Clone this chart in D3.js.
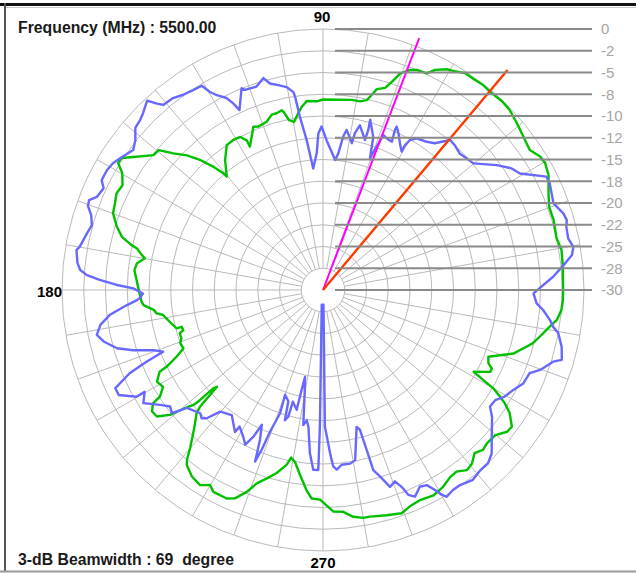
<!DOCTYPE html>
<html><head><meta charset="utf-8">
<script src="https://cdn.jsdelivr.net/npm/d3@7"></script>
<style>
html,body{margin:0;padding:0;background:#fff;}
svg{display:block;}
</style></head>
<body>
<svg id="chart" width="636" height="574"></svg>
<script>
// ---- data (angle in degrees counter-clockwise from 0 at right, value in dB) ----
const blueSeries = [
[0.5,-5.1],[3.3,-3.5],[5.9,-2.2],[8.0,-1.1],[9.8,-0.8],[11.9,-1.2],[14.6,-1.1],[16.0,-0.85],[17.7,-1.0],[20.6,-1.7],[25.2,-1.2],[26.9,-1.2],[30.6,-3.7],[32.8,-4.2],[35.7,-5.4],[40.1,-7.4],[42.5,-7.6],[44.9,-7.8],[47.7,-7.5],[49.7,-7.4],[52.7,-8.8],[55.0,-9.2],[58.3,-9.5],[59.9,-10.1],[60.5,-10.9],[60.4,-11.7],[62.0,-11.1],[64.3,-10.0],[65.7,-9.4],[65.8,-9.8],[65.1,-11.2],[67.2,-11.1],[68.7,-10.9],[69.5,-12.4],[70.4,-13.9],[71.8,-11.5],[74.5,-9.7],[74.2,-10.9],[74.4,-12.1],[75.4,-11.6],[77.4,-10.6],[78.5,-11.6],[78.9,-12.8],[79.9,-12.3],[81.6,-11.4],[82.5,-12.2],[83.6,-14.2],[84.7,-15.0],[86.4,-14.1],[88.6,-12.8],[90.5,-11.2],[91.7,-12.0],[92.6,-14.2],[94.6,-16.0],[96.2,-12.7],[97.6,-9.9],[98.2,-7.6],[98.5,-7.0],[100.2,-6.3],[102.3,-5.9],[104.4,-5.5],[105.7,-4.7],[108.1,-5.4],[111.3,-5.3],[112.0,-5.0],[114.9,-7.2],[115.7,-6.2],[116.7,-5.3],[118.6,-4.5],[119.7,-3.8],[120.7,-2.7],[123.0,-2.6],[125.6,-2.4],[128.0,-2.0],[130.8,-1.9],[131.7,-1.3],[132.9,-0.3],[135.5,-1.0],[137.1,-1.3],[139.2,-1.5],[141.4,-2.4],[143.6,-2.9],[146.5,-2.3],[148.9,-1.8],[151.0,-1.6],[153.6,-1.6],[155.1,-2.2],[157.6,-1.9],[159.0,-1.2],[160.3,-1.3],[162.1,-2.0],[164.3,-2.4],[166.5,-2.1],[169.9,-1.6],[170.8,-1.3],[173.7,-1.6],[175.3,-2.0],[176.4,-2.8],[177.4,-4.3],[178.6,-6.3],[179.5,-8.2],[181.1,-9.3],[182.6,-8.9],[183.1,-8.6],[184.4,-7.4],[186.7,-5.3],[188.9,-4.1],[191.2,-3.5],[193.2,-4.1],[195.8,-5.4],[197.6,-7.1],[199.5,-9.3],[201.1,-10.3],[202.1,-8.1],[203.3,-5.8],[205.3,-3.6],[207.2,-3.6],[209.8,-5.3],[209.7,-6.4],[212.2,-5.6],[215.2,-7.1],[217.3,-7.9],[219.2,-7.6],[220.9,-9.3],[225.1,-10.0],[226.6,-9.7],[227.8,-10.1],[229.8,-11.7],[233.9,-12.2],[238.2,-10.8],[238.6,-11.6],[241.5,-10.8],[243.3,-10.1],[244.6,-11.3],[245.6,-13.0],[247.2,-11.3],[248.4,-8.8],[249.0,-10.3],[249.5,-12.6],[250.8,-15.0],[250.1,-17.2],[252.7,-16.6],[253.7,-14.4],[254.7,-14.9],[254.9,-16.7],[257.6,-15.9],[257.8,-17.5],[258.3,-19.8],[259.9,-18.0],[261.7,-14.3],[262.9,-14.9],[263.9,-14.2],[265.4,-11.2],[266.9,-9.3],[268.5,-9.3],[268.7,-14.3],[265.0,-28.3],[271.9,-28.3],[270.8,-14.3],[272.5,-11.2],[273.3,-9.7],[274.4,-9.3],[276.1,-9.8],[278.9,-9.8],[280.7,-10.1],[283.8,-13.8],[284.8,-13.4],[285.3,-10.9],[285.6,-8.5],[287.0,-7.6],[288.8,-6.1],[290.6,-6.5],[291.8,-5.6],[292.6,-4.5],[294.0,-4.0],[296.2,-4.8],[298.0,-4.6],[299.2,-3.7],[300.1,-2.8],[300.9,-2.3],[303.1,-2.6],[305.1,-2.6],[308.3,-2.2],[311.1,-2.5],[313.6,-2.5],[315.9,-3.0],[319.0,-4.3],[323.1,-5.7],[325.1,-6.6],[327.4,-6.5],[329.6,-5.8],[332.3,-5.3],[335.0,-4.6],[338.1,-4.4],[339.8,-3.4],[342.7,-2.3],[343.7,-1.4],[346.6,-1.8],[349.6,-2.5],[350.9,-3.2],[352.5,-3.7],[354.8,-4.6],[356.4,-5.4],[359.1,-5.8]
];
const greenSeries = [
[0,-2.4],[5.5,-2.3],[9.5,-2.2],[12.5,-2.5],[16.9,-2.3],[20.2,-2.3],[23.2,-1.8],[27.0,-0.9],[29.7,-0.6],[31.6,-0.7],[34.1,-1.3],[37.4,-1.0],[40.7,-0.6],[43.9,-0.2],[46.5,-0.1],[49.6,-0.2],[52.0,-0.1],[54.6,-0.2],[56.8,-0.2],[59.3,-0.7],[60.7,-0.9],[63.0,-1.6],[64.4,-2.4],[66.9,-2.5],[68.4,-2.8],[69.4,-3.2],[70.4,-3.6],[71.7,-4.8],[72.9,-5.7],[75.0,-6.1],[76.0,-6.9],[77.0,-7.6],[78.9,-7.9],[81.4,-7.9],[89.9,-8.1],[91.9,-8.3],[94.9,-8.2],[96.6,-8.8],[98.0,-9.5],[99.8,-10.4],[101.3,-10.1],[102.4,-9.1],[102.9,-8.8],[104.7,-9.0],[106.3,-9.0],[108.5,-9.6],[111.6,-9.8],[113.1,-9.6],[117.0,-11.5],[117.0,-10.7],[118.4,-10.0],[120.9,-9.9],[123.6,-10.0],[127.0,-11.3],[130.3,-12.9],[130.5,-12.4],[131.7,-11.0],[133.4,-9.4],[135.3,-8.0],[137.6,-6.7],[139.6,-5.2],[141.5,-5.1],[144.9,-3.4],[146.8,-2.3],[148.2,-2.3],[149.8,-3.3],[152.4,-4.0],[154.9,-3.8],[157.4,-4.1],[159.9,-4.3],[162.9,-5.2],[165.2,-6.1],[166.8,-7.4],[167.4,-8.1],[169.1,-8.8],[169.9,-9.2],[171.8,-8.4],[174.0,-8.2],[177.5,-8.6],[181.0,-8.9],[183.7,-9.1],[184.8,-9.3],[186.7,-10.4],[188.0,-10.7],[188.9,-11.4],[190.3,-11.7],[191.7,-12.0],[194.7,-12.6],[194.6,-13.2],[196.0,-13.3],[196.8,-12.8],[198.9,-12.8],[200.4,-12.5],[202.7,-12.6],[204.5,-11.5],[206.1,-10.0],[206.6,-9.0],[208.9,-8.2],[211.2,-8.5],[213.2,-7.6],[213.7,-6.5],[215.4,-5.9],[217.3,-6.0],[219.2,-7.3],[220.4,-8.9],[221.6,-10.1],[221.8,-11.0],[221.9,-13.1],[222.4,-13.5],[222.9,-12.3],[223.5,-10.5],[224.3,-9.7],[227.0,-8.3],[229.9,-6.3],[231.3,-5.0],[232.1,-4.5],[234.9,-3.8],[237.8,-3.5],[239.9,-4.1],[241.5,-3.6],[245.2,-3.6],[247.1,-4.0],[249.3,-5.2],[251.1,-6.5],[253.4,-7.4],[255.8,-8.3],[258.3,-9.5],[259.2,-10.4],[260.7,-10.0],[262.9,-8.6],[265.3,-6.9],[266.9,-6.0],[269.2,-5.9],[272.7,-4.5],[275.2,-4.4],[277.6,-3.7],[280.0,-3.4],[281.7,-3.4],[285.8,-3.1],[289.4,-2.8],[291.9,-3.2],[294.8,-3.4],[298.3,-3.2],[301.4,-3.5],[304.2,-4.0],[306.3,-4.1],[308.6,-3.5],[310.6,-3.7],[312.9,-4.4],[315.0,-4.0],[316.9,-4.2],[319.9,-4.1],[322.4,-3.3],[324.1,-3.2],[326.6,-4.3],[328.1,-5.4],[328.9,-6.2],[330.0,-7.4],[330.7,-8.9],[331.5,-10.3],[333.9,-8.6],[335.1,-8.6],[336.1,-9.2],[338.0,-9.5],[339.8,-8.3],[341.6,-6.9],[343.8,-6.0],[345.8,-5.1],[347.9,-4.5],[350.8,-3.6],[352.7,-2.9],[355.2,-2.5],[357.6,-2.4]
];
// beam marker lines: [angle, dB extent]
const markerLines = [
  {name:"magenta", angle:69.1, extent:1.0},
  {name:"red", angle:50.0, extent:3.0}
];
const ringValues = [-27.5,-25,-22.5,-20,-17.5,-15,-12.5,-10,-7.5,-5,-2.5,0];
const scaleTickValues = [0,-2.5,-5,-7.5,-10,-12.5,-15,-17.5,-20,-22.5,-25,-27.5,-30];
const scaleTickLabels = ["0","-2","-5","-8","-10","-12","-15","-18","-20","-22","-25","-28","-30"];
const spokeAngles = d3.range(0, 360, 10);
const angleLabels = [{a:90,t:"90"},{a:180,t:"180"},{a:270,t:"270"}];
const frequencyText = "Frequency (MHz) : 5500.00";
const beamwidthText = "3-dB Beamwidth : 69  degree";

// ---- drawing ----
const svg = d3.select("#chart");
const W = 636, H = 574;
const cx = 323, cy = 290, R = 261;
const rScale = d3.scaleLinear().domain([-30, 0]).range([0, R]);
const toRad = a => (90 - a) * Math.PI / 180; // d3 radial angle (clockwise from 12 o'clock)
const px = (a, v) => cx + rScale(v) * Math.cos(a * Math.PI / 180);
const py = (a, v) => cy - rScale(v) * Math.sin(a * Math.PI / 180);

// frame
const frame = svg.append("g");
frame.append("rect").attr("x",0).attr("y",0).attr("width",W).attr("height",H).attr("fill","#fff");
frame.append("line").attr("x1",0).attr("x2",W).attr("y1",4.5).attr("y2",4.5).attr("stroke","#111").attr("stroke-width",3);
frame.append("line").attr("x1",6).attr("x2",W).attr("y1",7.5).attr("y2",7.5).attr("stroke","#c8c8c8").attr("stroke-width",1);
frame.append("line").attr("x1",5).attr("x2",5).attr("y1",3).attr("y2",572).attr("stroke","#555").attr("stroke-width",2);
frame.append("line").attr("x1",0).attr("x2",W).attr("y1",571.5).attr("y2",571.5).attr("stroke","#9a9a9a").attr("stroke-width",2);

const g = svg.append("g").attr("transform", `translate(${cx},${cy})`);

// rings
g.selectAll("circle.ring").data(ringValues).join("circle")
  .attr("class","ring").attr("r", d => rScale(d))
  .attr("fill","none").attr("stroke","#b9b9b9").attr("stroke-width",1);

// spokes
g.selectAll("line.spoke").data(spokeAngles).join("line")
  .attr("class","spoke")
  .attr("x1", a => rScale(ringValues[0]) * Math.cos(a*Math.PI/180))
  .attr("y1", a => -rScale(ringValues[0]) * Math.sin(a*Math.PI/180))
  .attr("x2", a => R * Math.cos(a*Math.PI/180))
  .attr("y2", a => -R * Math.sin(a*Math.PI/180))
  .attr("stroke","#b9b9b9").attr("stroke-width",1);

// dB scale lines and labels
const scaleG = svg.append("g");
scaleG.selectAll("line").data(scaleTickValues).join("line")
  .attr("x1", cx + 12).attr("x2", cx + 269)
  .attr("y1", d => cy - rScale(d)).attr("y2", d => cy - rScale(d))
  .attr("stroke","#8a8a8a").attr("stroke-width",2);
scaleG.selectAll("text").data(scaleTickValues).join("text")
  .attr("x", cx + 278).attr("y", d => cy - rScale(d))
  .attr("dy","0.36em")
  .attr("font-family","'Liberation Sans', Arial, sans-serif").attr("font-size",15)
  .attr("fill","#a6a6a6")
  .text((d,i) => scaleTickLabels[i]);

// series
const radial = d3.lineRadial()
  .angle(d => toRad(d[0]))
  .radius(d => rScale(d[1]))
  .curve(d3.curveLinearClosed);
g.append("path").datum(greenSeries).attr("d", radial)
  .attr("fill","none").attr("stroke","#00c000").attr("stroke-width",2.4).attr("stroke-linejoin","round");
g.append("path").datum(blueSeries).attr("d", radial)
  .attr("fill","none").attr("stroke","#6868ff").attr("stroke-width",2.4).attr("stroke-linejoin","round");

// marker lines
const markerColors = {magenta:"#ff00ff", red:"#ff3a00"};
g.selectAll("line.marker").data(markerLines).join("line")
  .attr("class","marker")
  .attr("x1",0).attr("y1",0)
  .attr("x2", d => rScale(d.extent) * Math.cos(d.angle*Math.PI/180))
  .attr("y2", d => -rScale(d.extent) * Math.sin(d.angle*Math.PI/180))
  .attr("stroke", d => markerColors[d.name])
  .attr("stroke-width", d => d.name === "red" ? 2.4 : 2);

// angle labels
const font = "'Liberation Sans', Arial, sans-serif";
svg.append("text").attr("x", cx - 1).attr("y", 22).attr("text-anchor","middle")
  .attr("font-family",font).attr("font-size",15).attr("font-weight","bold").text(angleLabels[0].t);
svg.append("text").attr("x", 62).attr("y", 297).attr("text-anchor","end")
  .attr("font-family",font).attr("font-size",15).attr("font-weight","bold").text(angleLabels[1].t);
svg.append("text").attr("x", cx).attr("y", 568).attr("text-anchor","middle")
  .attr("font-family",font).attr("font-size",15).attr("font-weight","bold").text(angleLabels[2].t);

// info texts
svg.append("text").attr("x", 18).attr("y", 33)
  .attr("font-family",font).attr("font-size",15.8).attr("font-weight","bold").attr("fill","#1a1a1a")
  .text(frequencyText);
svg.append("text").attr("x", 18).attr("y", 565).attr("xml:space","preserve").style("white-space","pre")
  .attr("font-family",font).attr("font-size",15.8).attr("font-weight","bold").attr("fill","#1a1a1a")
  .text(beamwidthText);
</script>
</body></html>
